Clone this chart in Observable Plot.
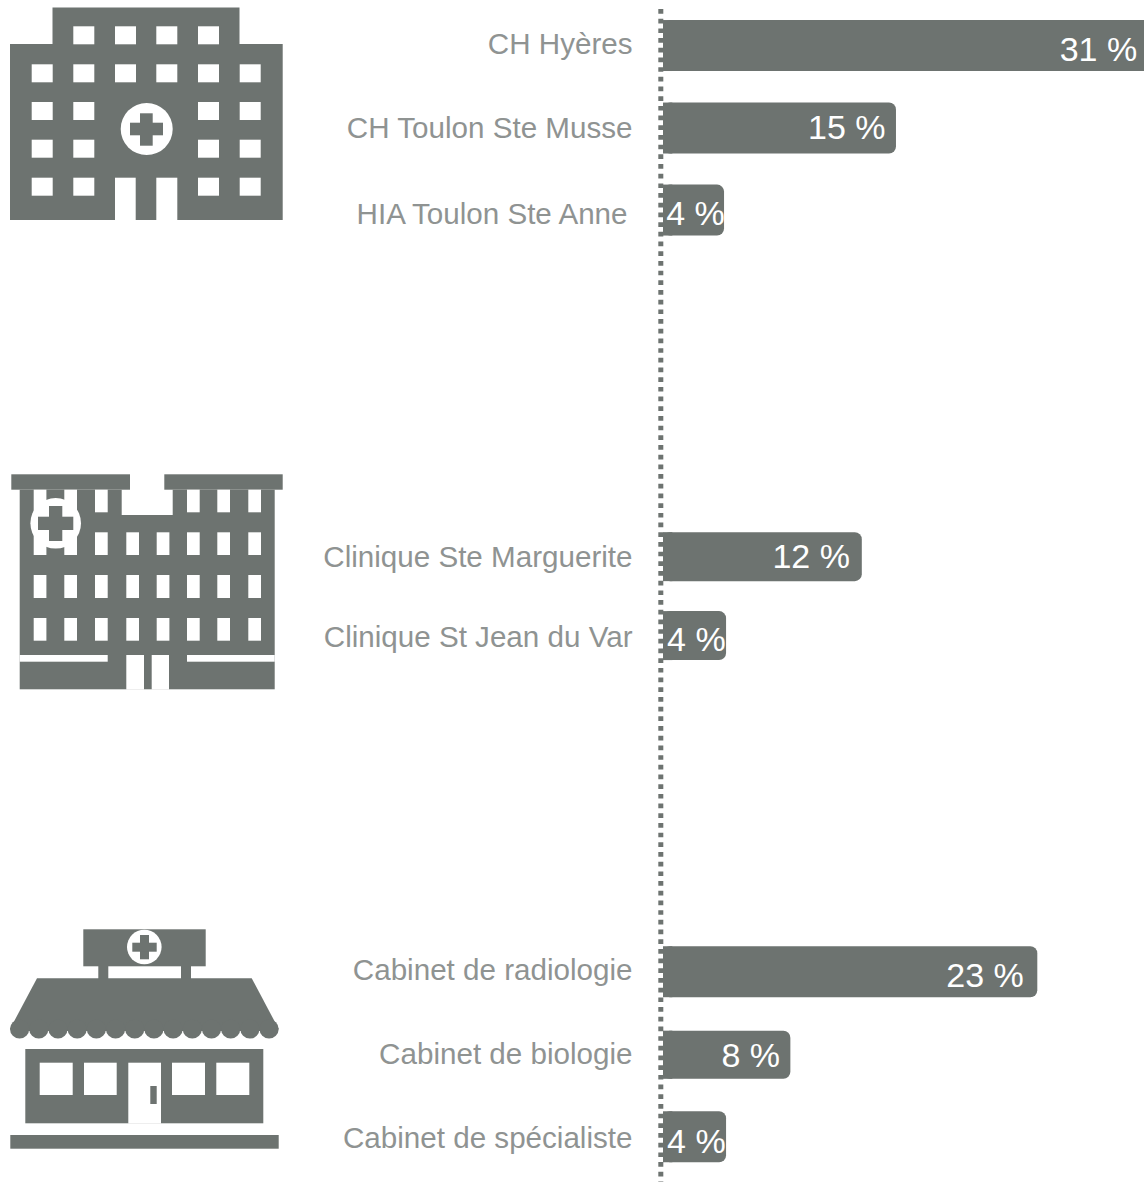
<!DOCTYPE html>
<html>
<head>
<meta charset="utf-8">
<script src="https://cdn.jsdelivr.net/npm/d3@7"></script>
<script src="https://cdn.jsdelivr.net/npm/@observablehq/plot@0.6"></script>
<style>html,body{margin:0;padding:0;background:#fff}svg{display:block}</style>
</head>
<body>
<div id="chart"></div>
<script>
const categories = ["CH Hyères","CH Toulon Ste Musse","HIA Toulon Ste Anne","Clinique Ste Marguerite","Clinique St Jean du Var","Cabinet de radiologie","Cabinet de biologie","Cabinet de spécialiste"];
const valueLabels = ["31 %","15 %","4 %","12 %","4 %","23 %","8 %","4 %"];
const barLengths = [31.6,15,3.93,12.8,4.06,24.1,8.2,4.06];
const labelEnds = [30.5,14.3,3.95,12,4.0,23.2,7.5,4.0];
const barSlots = [0,0.994,1.982,6.157,7.108,11.157,12.157,13.145];
const barHalf = [0.307,0.307,0.307,0.295,0.295,0.307,0.29,0.307];
const categorySlots = [-0.02,0.994,2.03,6.16,7.13,11.14,12.15,13.16];
const valueSlots = [0.054,0.994,2.03,6.16,7.16,11.2,12.17,13.2];
const rows = categories.map((category,i)=>({category,label:valueLabels[i],length:barLengths[i],end:labelEnds[i],
  y1:barSlots[i]-barHalf[i],y2:barSlots[i]+barHalf[i],catY:categorySlots[i],valY:valueSlots[i]}));

const grey = "#6d7370", labelGrey = "#8f9392";
const font = "'Liberation Sans', Arial, sans-serif";

function icons(){
  const g = d3.create("svg:g");
  const R=(x1,y1,x2,y2,f=grey)=>g.append("rect").attr("x",x1).attr("y",y1).attr("width",x2-x1).attr("height",y2-y1).attr("fill",f);
  const C=(cx,cy,r,f="#fff")=>g.append("circle").attr("cx",cx).attr("cy",cy).attr("r",r).attr("fill",f);
  const W="#fff";
  // icon 1
  R(52.5,7.5,239.5,44); R(10,44,282.7,220);
  const c1=[31.7,73.3,115,156.3,198,239.7], r1=[26.3,64.3,102,139.7,177.7];
  [1,2,3,4].forEach(c=>R(c1[c],r1[0],c1[c]+21,r1[0]+18,W));
  c1.forEach(x=>R(x,r1[1],x+21,r1[1]+18,W));
  [2,3,4].forEach(r=>[0,1,4,5].forEach(c=>R(c1[c],r1[r],c1[c]+21,r1[r]+18,W)));
  R(115,177.7,135.7,220.5,W); R(156.3,177.7,177.3,220.5,W);
  C(146.7,129,26); R(140,113.3,152.7,145.7); R(130,122.7,163,135.3);
  // icon 2
  R(19.7,489.7,274.7,689.3);
  R(121.7,489,172.7,515,W);
  R(11.3,474.3,130,489.7); R(164.3,474.3,282.7,489.7);
  R(19.7,655,107.7,661.7,W); R(187,655,274.7,661.7,W);
  R(126.3,655,144,689.6,W); R(151.7,655,169,689.6,W);
  const c2=[33.7,64.3,95,126.3,156.7,187,217.3,248.3];
  [0,1].forEach(c=>R(c2[c],489.7,c2[c]+12.7,555,W));
  [2,5,6,7].forEach(c=>R(c2[c],489.7,c2[c]+12.7,512.3,W));
  [2,3,4,5,6,7].forEach(c=>R(c2[c],532.3,c2[c]+12.7,555,W));
  c2.forEach(x=>{R(x,575,x+12.7,598,W);R(x,618,x+12.7,640.7,W);});
  C(55.7,523.3,25.3); R(49,506,62.3,541); R(38,516.7,73.3,530);
  // icon 3
  R(83.3,929.3,205.7,966.3); R(98.3,966,108.3,979); R(181,966,191,979);
  g.append("path").attr("d","M37 978.3H251.7L278.7 1029L275 1031H14L10 1029Z").attr("fill",grey);
  d3.range(14).forEach(i=>C(10+9.6+i*19.19,1029,9.6,grey));
  R(25.3,1049,263.3,1123.3);
  [[39.7,72.7],[84,116.7],[172,205],[216.3,249.3]].forEach(([a,b])=>R(a,1062.7,b,1095,W));
  R(128.3,1062.7,161,1123.6,W); R(150.3,1086,156.7,1104);
  R(10.3,1135,278.7,1148.7);
  C(144.3,947,17.3); R(140,935,149,959.3); R(132.3,942.7,156.7,951.7);
  return g.node();
}

const plot = Plot.plot({
  width:1144, height:1182,
  marginTop:9, marginBottom:0, marginLeft:0, marginRight:0,
  x:{domain:[-42.69,30.97], axis:null},
  y:{domain:[-0.44,13.69], axis:null, range:[9,1182]},
  style:{fontFamily:font, background:"#fff"},
  marks:[
    icons,
    Plot.ruleX([0],{dx:-2.7,stroke:grey,strokeWidth:5,strokeDasharray:"4.7,4.99"}),
    Plot.rect(rows,{x1:0,x2:"length",y1:"y1",y2:"y2",fill:grey,rx:7}),
    Plot.rect(rows,{x1:0,x2:0.6,y1:"y1",y2:"y2",fill:grey}),
    Plot.text(rows.filter(d=>!d.category.startsWith("HIA")),{x:0,y:"catY",text:"category",textAnchor:"end",dx:-31,fill:labelGrey,fontSize:29.6}),
    Plot.text(rows.filter(d=>d.category.startsWith("HIA")),{x:0,y:"catY",text:"category",textAnchor:"end",dx:-36,fill:labelGrey,fontSize:29.6}),
    Plot.text(rows,{x:"end",y:"valY",text:"label",textAnchor:"end",fill:"#fff",fontSize:34})
  ]
});
document.getElementById("chart").append(plot);
</script>
</body>
</html>
